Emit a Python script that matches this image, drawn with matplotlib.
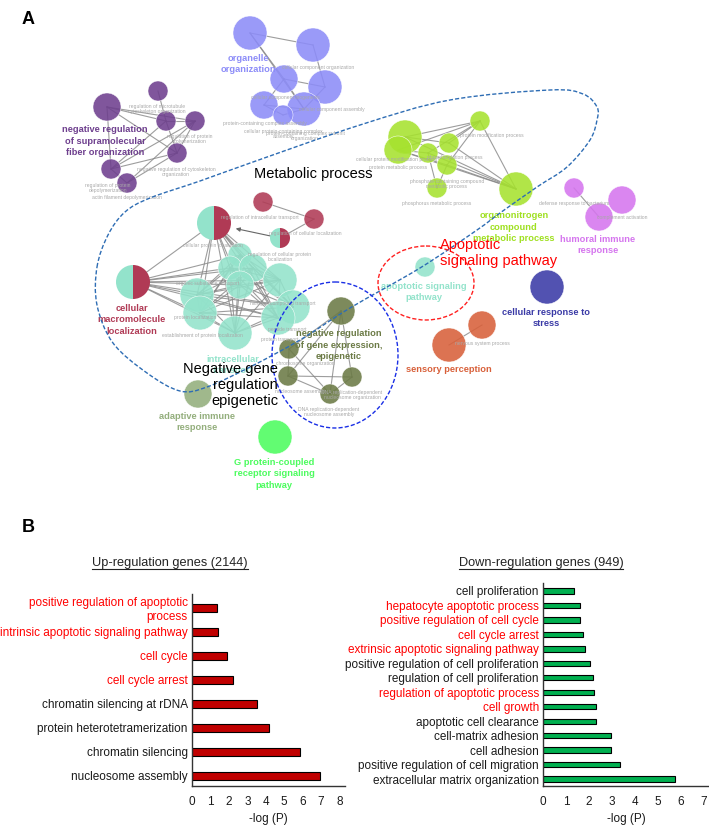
import itertools

import numpy as np
import matplotlib
matplotlib.use('Agg')
import matplotlib.pyplot as plt
from matplotlib.patches import Circle, Wedge, Ellipse, PathPatch
from matplotlib.path import Path

plt.rcParams['font.family'] = ['Liberation Sans', 'DejaVu Sans']

# ---------------- panel B data ----------------
up_terms = ['positive regulation of apoptotic\nprocess',
            'intrinsic apoptotic signaling pathway',
            'cell cycle', 'cell cycle arrest',
            'chromatin silencing at rDNA', 'protein heterotetramerization',
            'chromatin silencing', 'nucleosome assembly']
up_logp = [1.33, 1.43, 1.92, 2.2, 3.55, 4.2, 5.85, 6.92]
up_red = [True, True, True, True, False, False, False, False]

down_terms = ['cell proliferation', 'hepatocyte apoptotic process',
              'positive regulation of cell cycle', 'cell cycle arrest',
              'extrinsic apoptotic signaling pathway',
              'positive regulation of cell proliferation',
              'regulation of cell proliferation',
              'regulation of apoptotic process', 'cell growth',
              'apoptotic cell clearance', 'cell-matrix adhesion',
              'cell adhesion', 'positive regulation of cell migration',
              'extracellular matrix organization']
down_logp = [1.35, 1.62, 1.62, 1.76, 1.84, 2.06, 2.16, 2.2, 2.31, 2.31,
             2.94, 2.94, 3.33, 5.74]
down_red = [False, True, True, True, True, False, False, True, True,
            False, False, False, False, False]

# ---------------- panel A network (pixel layout) ----------------
node_x = [250, 313, 284, 325, 264, 304, 283,
          107, 158, 166, 195, 177, 111, 127,
          405, 398, 428, 449, 480, 447, 437, 516,
          574, 622, 599, 547, 482, 449, 425,
          341, 289, 288, 352, 330, 198, 275,
          263, 314,
          240, 230, 253, 240, 280, 197, 200, 235, 293, 278,
          214, 280, 133]
node_y = [33, 45, 79, 87, 105, 109, 115,
          107, 91, 121, 121, 153, 169, 183,
          137, 150, 153, 143, 121, 165, 188, 189,
          188, 200, 217, 287, 325, 345, 267,
          311, 349, 376, 377, 394, 394, 437,
          202, 219,
          255, 268, 268, 285, 280, 295, 313, 333, 307, 318,
          223, 238, 282]
node_r = [17, 17, 14, 17, 14, 17, 10,
          14, 10, 10, 10, 10, 10, 10,
          17, 14, 10, 10, 10, 10, 10, 17,
          10, 14, 14, 17, 14, 17, 10,
          14, 10, 10, 10, 10, 14, 17,
          10, 10,
          12, 12, 14, 14, 17, 17, 17, 17, 17, 17,
          17, 10, 17]
node_group = (['organelle'] * 7 + ['fiber'] * 7 + ['nitrogen'] * 8 +
              ['humoral'] * 3 + ['stress', 'sensory', 'sensory', 'apoptotic'] +
              ['epigenetic'] * 5 + ['adaptive', 'gpcr'] +
              ['macromol'] * 2 + ['transport'] * 10 + ['split'] * 3)

group_colors = {
    'organelle': '#8c8cf8', 'fiber': '#6e3f8e', 'nitrogen': '#a6e22e',
    'humoral': '#d575ee', 'stress': '#3a3aa6', 'sensory': '#d8603a',
    'apoptotic': '#93e3cb', 'epigenetic': '#6b7a45', 'adaptive': '#93ae7c',
    'gpcr': '#4cfc5e', 'macromol': '#b03a55', 'transport': '#93e3cb',
}

edges = [(0, 1), (0, 2), (0, 5), (1, 3), (2, 3), (2, 4), (2, 5), (4, 5),
         (3, 5), (4, 6), (5, 6),
         (7, 9), (7, 10), (7, 11), (7, 12), (8, 9), (9, 10), (10, 12),
         (10, 13), (11, 12), (11, 13), (12, 13), (10, 11), (9, 12), (9, 11),
         (14, 18), (15, 18), (16, 18), (17, 18), (19, 18), (14, 21),
         (15, 21), (16, 21), (17, 21), (19, 21), (18, 21), (20, 19),
         (16, 20), (14, 17), (15, 16), (15, 19),
         (22, 24), (26, 27),
         (29, 30), (29, 31), (29, 32), (29, 33), (30, 31), (31, 32),
         (31, 33), (32, 33), (30, 33),
         (36, 37), (37, 49), (48, 50)]
transport_cluster = list(range(38, 48))
edges += list(itertools.combinations(transport_cluster, 2))
edges += [(48, t) for t in transport_cluster] + [(50, t) for t in transport_cluster]

node_labels = [
    ('organelle\norganization', 248, 64, '#8c8cf8'),
    ('negative regulation\nof supramolecular\nfiber organization', 105, 141, '#6e3f8e'),
    ('organonitrogen\ncompound\nmetabolic process', 514, 227, '#9fe020'),
    ('humoral immune\nresponse', 598, 245, '#d575ee'),
    ('cellular response to\nstress', 546, 318, '#3a3aa6'),
    ('sensory perception', 449, 370, '#d8603a'),
    ('apoptotic signaling\npathway', 424, 292, '#93e3cb'),
    ('negative regulation\nof gene expression,\nepigenetic', 339, 345, '#6b7a45'),
    ('adaptive immune\nresponse', 197, 422, '#93ae7c'),
    ('G protein-coupled\nreceptor signaling\npathway', 274, 474, '#4cfc5e'),
    ('cellular\nmacromolecule\nlocalization', 132, 320, '#b03a55'),
    ('intracellular\ntransport', 233, 365, '#93e3cb'),
]

gray_labels = [
    ('cellular component organization', 318, 67),
    ('cellular component biogenesis', 285, 97),
    ('cellular component assembly', 332, 109),
    ('protein-containing complex assembly', 265, 124),
    ('cellular protein-containing complex\nassembly', 283, 134),
    ('protein-containing complex subunit\norganization', 305, 136),
    ('regulation of microtubule\ncytoskeleton organization', 157, 109),
    ('regulation of protein\npolymerization', 190, 139),
    ('negative regulation of cytoskeleton\norganization', 176, 172),
    ('regulation of protein\ndepolymerization', 108, 188),
    ('actin filament depolymerization', 127, 197),
    ('protein modification process', 492, 136),
    ('cellular protein modification process', 397, 159),
    ('protein metabolic process', 398, 168),
    ('phosphorylation process', 455, 157),
    ('phosphate-containing compound\nmetabolic process', 447, 184),
    ('phosphorus metabolic process', 437, 203),
    ('defense response to bacterium', 574, 203),
    ('complement activation', 622, 218),
    ('nervous system process', 482, 344),
    ('regulation of intracellular transport', 260, 217),
    ('regulation of cellular localization', 305, 234),
    ('cellular protein localization', 213, 245),
    ('regulation of cellular protein\nlocalization', 280, 257),
    ('organic substance transport', 208, 283),
    ('nitrogen compound transport', 283, 303),
    ('protein localization', 195, 317),
    ('peptide transport', 287, 330),
    ('protein transport', 280, 339),
    ('establishment of protein localization', 202, 336),
    ('chromosome organization', 305, 363),
    ('nucleosome assembly', 300, 392),
    ('DNA replication-dependent\nnucleosome organization', 352, 395),
    ('DNA replication-dependent\nnucleosome assembly', 329, 412),
]

# dashed outline around the "metabolic process" region
outline_x = [97, 108, 125, 150, 200, 253, 360, 450, 550, 583, 597, 597, 590,
             567, 537, 500, 477, 420, 350, 300, 250, 207, 180, 147, 113, 97]
outline_y = [267, 235, 212, 198, 181, 162, 125, 100, 90, 94, 107, 120, 140,
             167, 187, 213, 230, 268, 308, 340, 367, 387, 391, 373, 343, 305]


def smooth_closed_path(xs, ys):
    # Catmull-Rom through the points, written as cubic Bezier pieces
    pts = np.column_stack([xs, ys]).astype(float)
    n = len(pts)
    verts = [pts[0]]
    codes = [Path.MOVETO]
    for i in range(n):
        p0, p1 = pts[i - 1], pts[i]
        p2, p3 = pts[(i + 1) % n], pts[(i + 2) % n]
        verts += [p1 + (p2 - p0) / 6, p2 - (p3 - p1) / 6, p2]
        codes += [Path.CURVE4] * 3
    return Path(verts, codes)


fig = plt.figure(figsize=(7.09, 8.26), dpi=100)
ax = fig.add_axes([0, 0, 1, 1])
ax.set_xlim(0, 709)
ax.set_ylim(826, 0)
ax.axis('off')

# edges
for i, j in edges:
    ax.plot([node_x[i], node_x[j]], [node_y[i], node_y[j]],
            color='#858585', lw=0.8, alpha=0.8, zorder=1)
ax.annotate('', xy=(233, 228), xytext=(node_x[49], node_y[49]),
            arrowprops=dict(arrowstyle='-|>', color='#666666', lw=0.8,
                            mutation_scale=6), zorder=1)

# nodes
for x, y, r, g in zip(node_x, node_y, node_r, node_group):
    if g == 'split':
        ax.add_patch(Wedge((x, y), r, 90, 270, fc='#93e3cb', ec='none', zorder=2))
        ax.add_patch(Wedge((x, y), r, 270, 90, fc='#b03a55', ec='none', zorder=2))
    else:
        ax.add_patch(Circle((x, y), r, fc=group_colors[g], ec='white',
                            lw=0.4, alpha=0.88, zorder=2))

for txt, x, y in gray_labels:
    ax.text(x, y, txt, fontsize=3.6, color='#a8a8a8', ha='center',
            va='center', linespacing=1.1, zorder=3)

for txt, x, y, c in node_labels:
    ax.text(x, y, txt, fontsize=6.7, fontweight='bold', color=c,
            ha='center', va='center', linespacing=1.35, zorder=4)

# region outlines and their captions
ax.add_patch(PathPatch(smooth_closed_path(outline_x, outline_y), fill=False,
                       ec='#2e6db4', lw=1.0, ls=(0, (3, 1.5)), zorder=5))
ax.add_patch(Ellipse((335, 355), 126, 146, fill=False, ec='#1a2fe6',
                     lw=1.0, ls=(0, (3, 1.5)), zorder=5))
ax.add_patch(Ellipse((426, 283), 96, 74, fill=False, ec='#ff2020',
                     lw=1.0, ls=(0, (3, 1.5)), zorder=5))

ax.text(254, 174, 'Metabolic process', fontsize=10.5, ha='left',
        va='center', zorder=6)
ax.text(278, 385, 'Negative gene\nregulation\nepigenetic', fontsize=10.5,
        ha='right', va='center', linespacing=1.22, zorder=6)
ax.text(440, 253, 'Apoptotic\nsignaling pathway', fontsize=10.5,
        color='#ff0000', ha='left', va='center', linespacing=1.22, zorder=6)

ax.text(28, 20, 'A', fontsize=13, fontweight='bold', ha='center', va='center')
ax.text(28, 527, 'B', fontsize=13, fontweight='bold', ha='center', va='center')

# ---------------- panel B bars ----------------
titles = [('Up-regulation genes (2144)', 170, 563),
          ('Down-regulation genes (949)', 541, 563)]
title_texts = [ax.text(x, y, t, fontsize=9.2, color='#222222', ha='center',
                       va='center') for t, x, y in titles]


def bar_panel(rect, terms, values, red, color, height, xmax, ticks, ylims):
    bax = fig.add_axes(rect)
    bax.patch.set_alpha(0)
    ypos = np.arange(len(terms))[::-1]
    bax.barh(ypos, values, height=height, color=color, edgecolor='black',
             linewidth=0.8)
    bax.set_xlim(0, xmax)
    bax.set_ylim(*ylims)
    bax.set_xticks(ticks)
    bax.set_yticks(ypos)
    bax.set_yticklabels(terms, fontsize=8.5)
    for lab, is_red in zip(bax.get_yticklabels(), red):
        lab.set_color('#ff0000' if is_red else '#1a1a1a')
    bax.tick_params(axis='x', length=0, pad=7, labelsize=8.5,
                    labelcolor='#1a1a1a')
    bax.tick_params(axis='y', length=0, pad=3)
    bax.set_xlabel('-log (P)', fontsize=8.5, labelpad=3.5, color='#1a1a1a')
    for side in ('top', 'right'):
        bax.spines[side].set_visible(False)
    for side in ('left', 'bottom'):
        bax.spines[side].set_linewidth(1.0)
        bax.spines[side].set_color('#333333')
    return bax


bar_panel([192 / 709, 1 - 786 / 826, 153 / 709, 192 / 826], up_terms,
          up_logp, up_red, '#c00000', 0.36, 8.3, range(9), (-0.42, 7.58))
bar_panel([543 / 709, 1 - 786 / 826, 166 / 709, 203 / 826], down_terms,
          down_logp, down_red, '#00b050', 0.37, 7.22, range(8), (-0.48, 13.55))

# underline the two list titles
fig.canvas.draw()
renderer = fig.canvas.get_renderer()
for t in title_texts:
    bb = t.get_window_extent(renderer).transformed(fig.transFigure.inverted())
    fig.add_artist(plt.Line2D([bb.x0, bb.x1], [bb.y0 + 0.0005] * 2,
                              color='#222222', lw=0.8,
                              transform=fig.transFigure))

fig.savefig('out.png', dpi=100)
